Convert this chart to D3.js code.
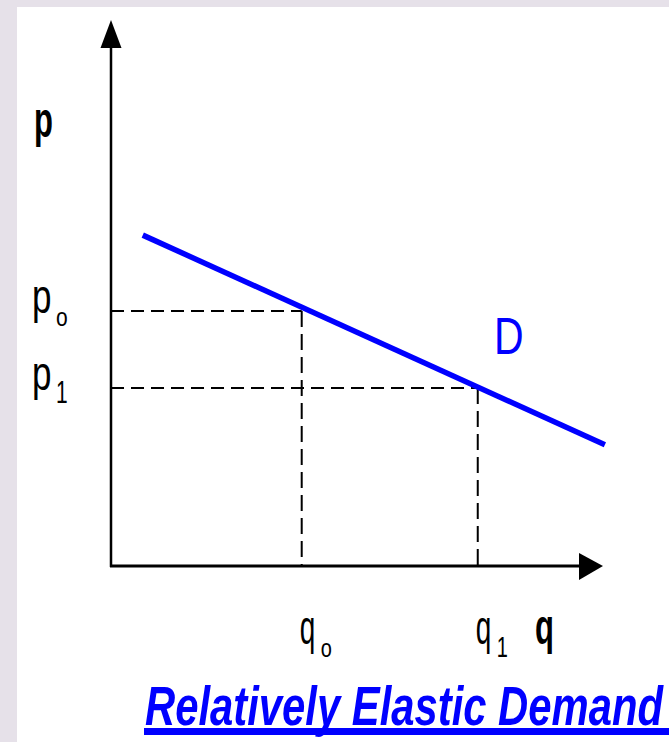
<!DOCTYPE html>
<html>
<head>
<meta charset="utf-8">
<script src="https://cdn.jsdelivr.net/npm/d3@7"></script>
<style>
  html, body { margin: 0; padding: 0; background: #ffffff; }
  svg { display: block; }
</style>
</head>
<body>
<script>
// ---- data ----
const demandQ = [0.65, 10.1];
const demandP = [6.06, 2.22];
const equilibriumQ = [3.9, 7.5];     // q0, q1
const equilibriumP = [4.67, 3.26];   // p0, p1
const priceSubs = ["o", "1"];
const quantitySubs = ["o", "1"];
const axisLabels = ["p", "q"];
const curveLabel = "D";
const title = "Relatively Elastic Demand";

const W = 669, H = 742;
const svg = d3.select("body").append("svg").attr("width", W).attr("height", H);

// background frame
svg.append("rect").attr("x", 0).attr("y", 0).attr("width", W).attr("height", H).attr("fill", "#e6e1e9");
svg.append("rect").attr("x", 17).attr("y", 7).attr("width", W - 17).attr("height", H - 7).attr("fill", "#ffffff");

const x = d3.scaleLinear().domain([0, 10]).range([111, 600]);
const y = d3.scaleLinear().domain([0, 10]).range([566, 20]);

const font = "'Liberation Sans', Arial, sans-serif";

// axes
svg.append("line").attr("x1", x(0)).attr("x2", x(0)).attr("y1", y(0) + 1).attr("y2", y(10) + 6)
  .attr("stroke", "#000").attr("stroke-width", 2.5);
svg.append("line").attr("x1", x(0) - 1).attr("x2", x(10) - 2).attr("y1", y(0)).attr("y2", y(0))
  .attr("stroke", "#000").attr("stroke-width", 3);
// arrow heads
svg.append("path")
  .attr("d", `M${x(0)},${y(10)} L${x(0) + 10.5},${y(10) + 28} L${x(0) - 10.5},${y(10) + 28} Z`)
  .attr("fill", "#000");
svg.append("path")
  .attr("d", `M${x(10) + 3},${y(0)} L${x(10) - 21},${y(0) - 13} L${x(10) - 21},${y(0) + 14} Z`)
  .attr("fill", "#000");

// dashed guides
equilibriumQ.forEach((q, i) => {
  const p = equilibriumP[i];
  svg.append("line").attr("x1", x(0)).attr("x2", x(q)).attr("y1", y(p)).attr("y2", y(p))
    .attr("stroke", "#000").attr("stroke-width", 2).attr("stroke-dasharray", "13,7");
  svg.append("line").attr("x1", x(q)).attr("x2", x(q)).attr("y1", y(p)).attr("y2", y(0))
    .attr("stroke", "#000").attr("stroke-width", 2).attr("stroke-dasharray", "16,7");
});

// demand curve
const lineGen = d3.line().x(d => x(d[0])).y(d => y(d[1]));
svg.append("path").datum(d3.zip(demandQ, demandP)).attr("d", lineGen)
  .attr("fill", "none").attr("stroke", "#0000ff").attr("stroke-width", 5.5);

// stretched text helper
function stext(txt, tx, ty, size, k, opts = {}) {
  const g = svg.append("g").attr("transform", `translate(${tx},${ty}) scale(1,${k})`);
  return g.append("text").attr("x", 0).attr("y", 0)
    .attr("font-family", font).attr("font-size", size)
    .attr("font-weight", opts.weight || "normal")
    .attr("font-style", opts.style || "normal")
    .attr("fill", opts.fill || "#000")
    .text(txt);
}

function subSize(s) { return s === "1" ? 1.45 : 1.25; }

// axis labels
stext(axisLabels[0], 34, 137, 31, 1.6, { weight: "bold" });
stext(axisLabels[1], 535, 644, 31, 1.6, { weight: "bold" });

// price labels
equilibriumP.forEach((p, i) => {
  const by = y(p) + 2;
  stext("p", 32, by, 35, 1.35);
  stext(priceSubs[i], 56, by + 13, 21, subSize(priceSubs[i]));
});
// quantity labels
equilibriumQ.forEach((q, i) => {
  stext("q", x(q) - 2, 644, 28, 1.7);
  stext(quantitySubs[i], x(q) + 19, 657, 20, subSize(quantitySubs[i]));
});

// curve label
stext(curveLabel, 494, 354, 41, 1.28, { fill: "#0000ff" });

// title
stext(title, 145, 725, 42, 1.32, { weight: "bold", style: "italic", fill: "#0000ff" })
  .attr("textLength", 518).attr("lengthAdjust", "spacingAndGlyphs");
svg.append("rect").attr("x", 144).attr("y", 728).attr("width", W - 144).attr("height", 7).attr("fill", "#0000ff");
</script>
</body>
</html>
